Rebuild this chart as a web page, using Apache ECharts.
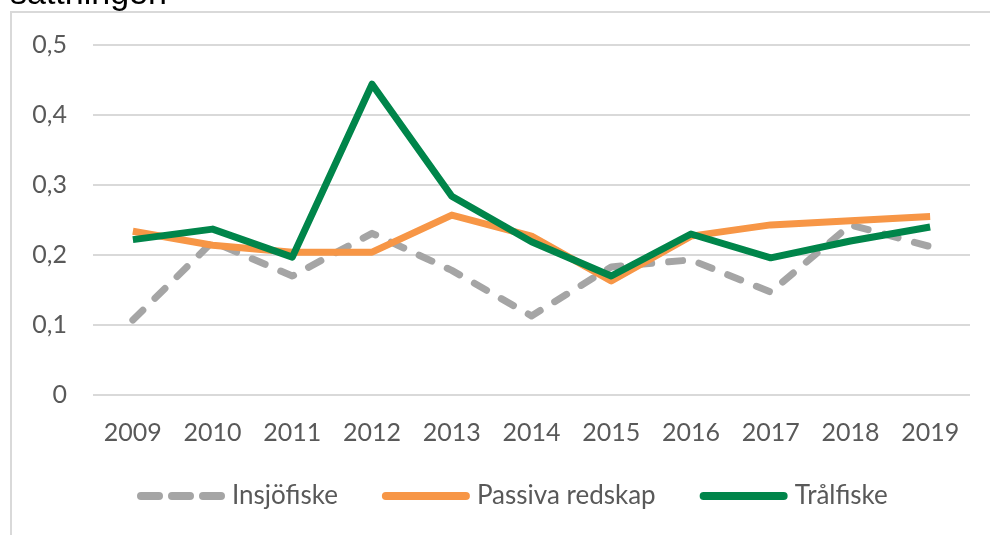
<!DOCTYPE html>
<html>
<head>
<meta charset="utf-8">
<script src="https://cdn.jsdelivr.net/npm/echarts@6/dist/echarts.min.js"></script>
<style>
  html, body { margin: 0; padding: 0; background: #fff; }
  #chart { width: 990px; height: 535px; }
</style>
</head>
<body>
<div id="chart"></div>
<script>
const years = ["2009", "2010", "2011", "2012", "2013", "2014", "2015", "2016", "2017", "2018", "2019"];
const insjofiske = [0.107, 0.219, 0.17, 0.231, 0.178, 0.113, 0.183, 0.193, 0.147, 0.243, 0.212];
const passivaRedskap = [0.234, 0.214, 0.204, 0.204, 0.257, 0.227, 0.163, 0.227, 0.243, 0.249, 0.255];
const tralfiske = [0.222, 0.237, 0.197, 0.444, 0.284, 0.219, 0.17, 0.23, 0.196, 0.22, 0.24];

const axisFont = "Lato";
const labelColor = "#595959";

// legend icons: three pills for the dashed series, one long pill for the solid ones
const dashIcon = "path://M4,0H22A4,4 0 0 1 22,8H4A4,4 0 0 1 4,0Z" +
  "M35,0H53A4,4 0 0 1 53,8H35A4,4 0 0 1 35,0Z" +
  "M66,0H84A4,4 0 0 1 84,8H66A4,4 0 0 1 66,0Z";
const solidIcon = "path://M4,0H84A4,4 0 0 1 84,8H4A4,4 0 0 1 4,0Z";

const chart = echarts.init(document.getElementById("chart"));

function lineSeries(name, data, color, dashed) {
  return {
    name,
    type: "line",
    data,
    symbol: "none",
    lineStyle: {
      color,
      width: 7,
      type: dashed ? [14, 17] : "solid",
      cap: dashed ? "round" : "butt",
      join: "round",
    },
    itemStyle: { color },
  };
}

chart.setOption({
  backgroundColor: "#fff",
  animation: false,
  textStyle: { fontFamily: axisFont },
  graphic: [
    {
      type: "rect",
      shape: { x: 11, y: 12, width: 1000, height: 600 },
      style: { fill: "none", stroke: "#d9d9d9", lineWidth: 2 },
      z: -1,
    },
    {
      type: "text",
      left: 10,
      top: -22,
      style: { text: "sättningen", font: "34px 'Liberation Sans'", fill: "#000" },
    },
  ],
  grid: { left: 93, right: 20, top: 45, bottom: 140 },
  legend: {
    bottom: 21,
    left: 132,
    itemWidth: 88,
    itemHeight: 8,
    itemGap: 44,
    textStyle: { fontSize: 26, color: labelColor, fontFamily: axisFont, padding: [0, 0, 0, 2] },
    data: [
      { name: "Insjöfiske", icon: dashIcon },
      { name: "Passiva redskap", icon: solidIcon },
      { name: "Trålfiske", icon: solidIcon },
    ],
  },
  xAxis: {
    type: "category",
    data: years,
    boundaryGap: true,
    axisLine: { show: false },
    axisTick: { show: false },
    axisLabel: { fontSize: 25, color: labelColor, margin: 25 },
  },
  yAxis: {
    type: "value",
    min: 0,
    max: 0.5,
    interval: 0.1,
    axisLine: { show: false },
    axisTick: { show: false },
    splitLine: { lineStyle: { color: "#d9d9d9", width: 2 } },
    axisLabel: {
      fontSize: 25,
      color: labelColor,
      margin: 26,
      formatter: (v) => (v === 0 ? "0" : v.toFixed(1).replace(".", ",")),
    },
  },
  series: [
    lineSeries("Insjöfiske", insjofiske, "#a5a5a5", true),
    lineSeries("Passiva redskap", passivaRedskap, "#f79646", false),
    lineSeries("Trålfiske", tralfiske, "#00854a", false),
  ],
});
</script>
</body>
</html>
